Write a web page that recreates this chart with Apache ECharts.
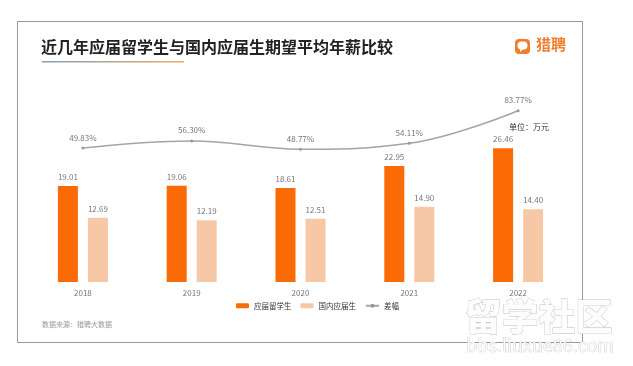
<!DOCTYPE html>
<html><head><meta charset="utf-8">
<script src="https://cdn.jsdelivr.net/npm/echarts@6/dist/echarts.min.js"></script>
<style>html,body{margin:0;padding:0;background:#fff;}#c{width:633px;height:366px;}</style>
</head><body><div id="c"></div>
<script>
var years = ['2018','2019','2020','2021','2022'];
var overseas = [19.01, 19.06, 18.61, 22.95, 26.46];
var domestic = [12.69, 12.19, 12.51, 14.90, 14.40];
var gap = [49.83, 56.30, 48.77, 54.11, 83.77];
var seriesNames = ['应届留学生', '国内应届生', '差幅'];
var titleText = '近几年应届留学生与国内应届生期望平均年薪比较';
var unitText = '单位：万元';
var sourceText = '数据来源：猎聘大数据';

var font = '"Noto Sans CJK SC", sans-serif';
var chart = echarts.init(document.getElementById('c'));
chart.setOption({
  backgroundColor: '#fff',
  textStyle: {fontFamily: font},
  grid: {left: 28.5, right: 60.5, top: 100, bottom: 84},
  xAxis: {
    type: 'category', data: years,
    axisLine: {show: false}, axisTick: {show: false},
    axisLabel: {color: '#777', fontSize: 8, margin: 7}
  },
  yAxis: [
    {type: 'value', min: 0, max: 36, show: false},
    {type: 'value', min: -72, max: 93.5, show: false}
  ],
  legend: {
    data: seriesNames, left: 231, top: 297,
    itemWidth: 13, itemHeight: 5, itemGap: 9,
    textStyle: {fontSize: 7.5, color: '#333', fontFamily: font}
  },
  series: [
    {
      name: seriesNames[0], type: 'bar', data: overseas, barWidth: 20, barGap: '50%',
      itemStyle: {color: '#FA6A05'},
      label: {show: true, position: 'top', color: '#777', fontSize: 8, distance: 5, formatter: function(p){return p.value.toFixed(2);}}
    },
    {
      name: seriesNames[1], type: 'bar', data: domestic, barWidth: 20,
      itemStyle: {color: '#F7C8A6'},
      label: {show: true, position: 'top', color: '#777', fontSize: 8, distance: 5, formatter: function(p){return p.value.toFixed(2);}}
    },
    {
      name: seriesNames[2], type: 'line', yAxisIndex: 1, data: gap, smooth: 0.4,
      symbol: 'circle', symbolSize: 3,
      lineStyle: {color: '#A5A5A5', width: 1.5},
      itemStyle: {color: '#999'},
      label: {show: true, position: 'top', color: '#777', fontSize: 8, distance: 5, formatter: function(p){return p.value.toFixed(2) + '%';}}
    }
  ],
  graphic: [
    {type: 'rect', shape: {x: 17.5, y: 21.5, width: 565, height: 321}, style: {fill: 'none', stroke: '#9a9a9a', lineWidth: 1}, z: -1},
    {type: 'text', left: 41, top: 39, style: {text: titleText, font: 'bold 16px ' + font, fill: '#222'}},
    {type: 'rect', shape: {x: 42, y: 61, width: 142, height: 1.5},
      style: {fill: new echarts.graphic.LinearGradient(0, 0, 1, 0, [{offset: 0, color: '#7fa0c0'}, {offset: 1, color: '#f0a860'}])}},
    {type: 'rect', shape: {x: 515, y: 39, width: 15, height: 15, r: 4}, style: {fill: '#EE7F30'}},
    {type: 'rect', shape: {x: 517.5, y: 41.5, width: 10, height: 8, r: 4}, style: {fill: '#fff'}},
    {type: 'polygon', shape: {points: [[520, 49], [523, 49], [520, 52]]}, style: {fill: '#fff'}},
    {type: 'text', left: 536, top: 37, style: {text: '猎聘', font: 'bold 15px ' + font, fill: '#EE7F30'}},
    {type: 'text', left: 509, top: 123, style: {text: unitText, font: '8px ' + font, fill: '#333'}},
    {type: 'text', left: 42, top: 321, style: {text: sourceText, font: '7px ' + font, fill: '#999'}},
    {type: 'text', left: 464, top: 298, z: 100, style: {text: '留学社区', font: '900 37px ' + font, fill: '#fdfdfd', stroke: '#bbb', lineWidth: 0.8, shadowBlur: 2, shadowColor: 'rgba(0,0,0,0.45)', shadowOffsetX: 2, shadowOffsetY: 2}},
    {type: 'text', left: 466, top: 336, z: 100, style: {text: 'bbs.liuxue86.com', font: '18px ' + font, fill: '#fafafa', stroke: '#bbb', lineWidth: 0.6, shadowBlur: 2, shadowColor: 'rgba(0,0,0,0.4)', shadowOffsetX: 1, shadowOffsetY: 1}}
  ]
});
</script></body></html>
